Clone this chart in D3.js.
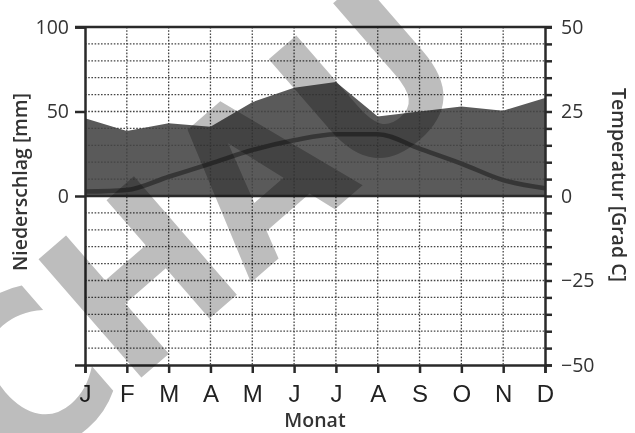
<!DOCTYPE html>
<html>
<head>
<meta charset="utf-8">
<script src="https://cdn.jsdelivr.net/npm/d3@7"></script>
<style>
  body { margin: 0; background: #fff; }
  svg { display: block; }
</style>
</head>
<body>
<div id="chart"></div>
<script>
// climate diagram data
const months = ["J", "F", "M", "A", "M", "J", "J", "A", "S", "O", "N", "D"];
const precipitation = [46, 38.5, 43, 41, 55.5, 64, 67.5, 47, 50, 53, 50.5, 58];   // mm
const temperature = [1.3, 1.8, 5.7, 9.6, 13.6, 16.5, 18.3, 18.3, 14, 9.6, 4.7, 2.3]; // Grad C
const precipTicks = [100, 50, 0];
const tempTicks = [50, 25, 0, -25, -50];

const width = 635;
const height = 433;
const plotLeft = 85, plotRight = 545, plotTop = 27, plotBottom = 365;

const svg = d3.select("#chart")
  .append("svg")
  .attr("width", width)
  .attr("height", height);

const x = d3.scalePoint()
  .domain(d3.range(months.length))
  .range([plotLeft, plotRight]);

const yP = d3.scaleLinear().domain([-100, 100]).range([plotBottom, plotTop]);
const yT = d3.scaleLinear().domain([-50, 50]).range([plotBottom, plotTop]);

// precipitation area
const area = d3.area()
  .x((d, i) => x(i))
  .y0(yP(0))
  .y1(d => yP(d));

svg.append("path")
  .datum(precipitation)
  .attr("d", area)
  .attr("fill", "#5a5a5a");

// dotted grid
const grid = svg.append("g")
  .attr("stroke", "#444")
  .attr("stroke-width", 1.3)
  .attr("stroke-dasharray", "1.6,1.6");

grid.selectAll(".h")
  .data(d3.range(-90, 100, 10).filter(v => v !== 0))
  .join("line")
  .attr("x1", plotLeft).attr("x2", plotRight)
  .attr("y1", d => yP(d)).attr("y2", d => yP(d));

grid.selectAll(".v")
  .data(d3.range(1, months.length - 1))
  .join("line")
  .attr("x1", d => x(d)).attr("x2", d => x(d))
  .attr("y1", plotTop).attr("y2", plotBottom);

// temperature line
const line = d3.line()
  .x((d, i) => x(i))
  .y(d => yT(d))
  .curve(d3.curveMonotoneX);

svg.append("path")
  .datum(temperature)
  .attr("d", line)
  .attr("fill", "none")
  .attr("stroke", "#363636")
  .attr("stroke-width", 4.5);

// axes
const axisColor = "#2a2a2a";
const minus = d => String(d).replace("-", "\u2212");

const leftAxis = svg.append("g")
  .attr("transform", `translate(${plotLeft},0)`)
  .call(d3.axisLeft(yP).tickValues(precipTicks).tickSize(10).tickPadding(6));

const rightAxis = svg.append("g")
  .attr("transform", `translate(${plotRight},0)`)
  .call(d3.axisRight(yT).tickValues(d3.range(-50, 51, 5)).tickSize(7).tickPadding(9)
    .tickFormat(d => tempTicks.includes(d) ? minus(d) : ""));

const bottomAxis = svg.append("g")
  .attr("transform", `translate(0,${plotBottom})`)
  .call(d3.axisBottom(x).tickSize(8).tickPadding(12).tickFormat(i => months[i]));

[leftAxis, rightAxis, bottomAxis].forEach(g => {
  g.select(".domain").attr("stroke", axisColor).attr("stroke-width", 2.5);
  g.selectAll(".tick line").attr("stroke", axisColor).attr("stroke-width", 2.5);
});

leftAxis.selectAll("text")
  .attr("font-family", "Open Sans")
  .attr("font-size", 19.5)
  .attr("fill", "#333");

rightAxis.selectAll("text")
  .attr("font-family", "Open Sans")
  .attr("font-size", 19.5)
  .attr("fill", "#333");

bottomAxis.selectAll("text")
  .attr("font-family", "Liberation Sans")
  .attr("font-size", 24)
  .attr("fill", "#222");

// top frame line and zero line
svg.append("line")
  .attr("x1", plotLeft - 10).attr("x2", plotRight + 7)
  .attr("y1", plotTop).attr("y2", plotTop)
  .attr("stroke", axisColor).attr("stroke-width", 2.5);

svg.append("line")
  .attr("x1", plotLeft).attr("x2", plotRight)
  .attr("y1", yP(0)).attr("y2", yP(0))
  .attr("stroke", axisColor).attr("stroke-width", 2.5);

// axis titles
svg.append("text")
  .attr("transform", `translate(27,182) rotate(-90)`)
  .attr("text-anchor", "middle")
  .attr("font-family", "Open Sans")
  .attr("font-weight", 600)
  .attr("font-size", 19.5)
  .attr("fill", "#333")
  .text("Niederschlag [mm]");

svg.append("text")
  .attr("transform", `translate(612,185) rotate(90)`)
  .attr("text-anchor", "middle")
  .attr("font-family", "Open Sans")
  .attr("font-weight", 600)
  .attr("font-size", 19.5)
  .attr("fill", "#333")
  .text("Temperatur [Grad C]");

svg.append("text")
  .attr("x", 315)
  .attr("y", 427)
  .attr("text-anchor", "middle")
  .attr("font-family", "Open Sans")
  .attr("font-weight", 600)
  .attr("font-size", 19.5)
  .attr("fill", "#333")
  .text("Monat");

// watermark
svg.append("text")
  .attr("transform", "translate(200,228) rotate(-41)")
  .attr("text-anchor", "middle")
  .attr("dominant-baseline", "central")
  .attr("font-family", "DejaVu Sans Condensed, DejaVu Sans")
  .attr("font-stretch", "condensed")
  .attr("font-weight", "bold")
  .attr("font-size", 215)
  .attr("fill", "#bdbdbd")
  .style("mix-blend-mode", "multiply")
  .text("CHAU");
</script>
</body>
</html>
